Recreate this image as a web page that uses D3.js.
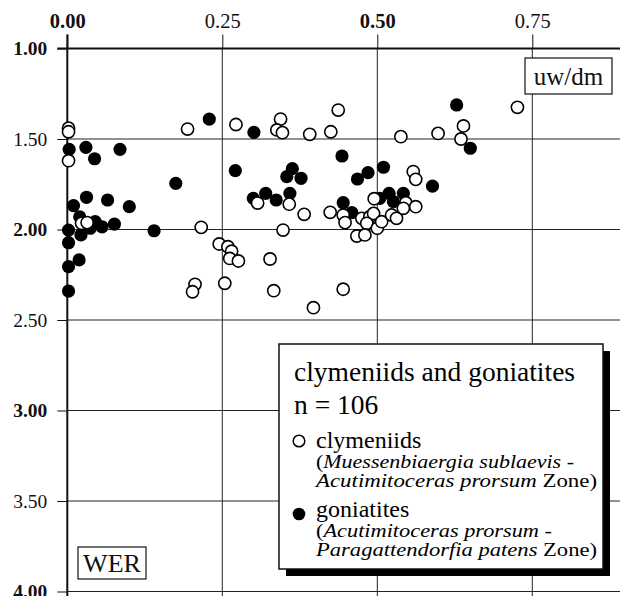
<!DOCTYPE html>
<html>
<head>
<meta charset="utf-8">
<script src="https://cdn.jsdelivr.net/npm/d3@7/dist/d3.min.js"></script>
<style>
  body { margin: 0; background: #fff; }
  svg { display: block; font-family: "Liberation Serif", "Times New Roman", serif; }
</style>
</head>
<body>
<svg id="chart"></svg>
<script>
"use strict";

var Width = 620,
    Height = 596;

// tick values
var xTicks = [0, 0.25, 0.5, 0.75],
    yTicks = [1, 1.5, 2, 2.5, 3, 3.5, 4];

// clymeniids (open circles): [uw/dm, WER]
var clymeniids = [
    [0.002, 1.44], [0.002, 1.46], [0.002, 1.62], [0.194, 1.445], [0.272, 1.42],
    [0.344, 1.39], [0.338, 1.45], [0.347, 1.465], [0.391, 1.474], [0.307, 1.854],
    [0.358, 1.86], [0.382, 1.916], [0.348, 2.003], [0.216, 1.988], [0.245, 2.08],
    [0.259, 2.095], [0.265, 2.12], [0.262, 2.16], [0.276, 2.174], [0.327, 2.163],
    [0.206, 2.303], [0.202, 2.344], [0.254, 2.297], [0.333, 2.338], [0.397, 2.432],
    [0.437, 1.34], [0.425, 1.46], [0.538, 1.487], [0.598, 1.469], [0.639, 1.428],
    [0.635, 1.50], [0.726, 1.325], [0.558, 1.68], [0.562, 1.723], [0.424, 1.905],
    [0.445, 1.92], [0.448, 1.962], [0.495, 1.83], [0.475, 1.938], [0.488, 1.929],
    [0.494, 1.911], [0.483, 1.966], [0.467, 2.036], [0.480, 2.03], [0.500, 1.993],
    [0.507, 1.957], [0.523, 1.92], [0.531, 1.938], [0.546, 1.852], [0.562, 1.874],
    [0.542, 1.883], [0.445, 2.33], [0.023, 1.966], [0.032, 1.962]
];

// goniatites (filled circles): [uw/dm, WER]
var goniatites = [
    [0.229, 1.39], [0.301, 1.463], [0.003, 1.557], [0.030, 1.546], [0.044, 1.609],
    [0.085, 1.557], [0.271, 1.675], [0.175, 1.745], [0.354, 1.708], [0.363, 1.664],
    [0.377, 1.717], [0.300, 1.828], [0.320, 1.80], [0.337, 1.837], [0.359, 1.80],
    [0.010, 1.868], [0.031, 1.822], [0.065, 1.837], [0.100, 1.874], [0.020, 1.93],
    [0.045, 1.957], [0.037, 1.993], [0.056, 1.985], [0.076, 1.97], [0.140, 2.007],
    [0.002, 2.003], [0.002, 2.073], [0.022, 2.03], [0.019, 2.168], [0.002, 2.205],
    [0.002, 2.34], [0.628, 1.312], [0.650, 1.551], [0.443, 1.594], [0.468, 1.721],
    [0.485, 1.686], [0.510, 1.656], [0.589, 1.76], [0.445, 1.852], [0.459, 1.907],
    [0.519, 1.80], [0.542, 1.80], [0.526, 1.846], [0.504, 1.828]
];

var x = d3.scaleLinear().domain([0, 0.75]).range([67.3, 532.3]);
var y = d3.scaleLinear().domain([1, 4]).range([48.5, 591.5]);

var svg = d3.select("#chart")
    .attr("width", Width)
    .attr("height", Height);

// grid lines
svg.append("g")
    .selectAll("line")
    .data(xTicks.slice(1))
    .enter()
    .append("line")
    .attr("x1", function (d) { return x(d); })
    .attr("x2", function (d) { return x(d); })
    .attr("y1", y(1))
    .attr("y2", Height)
    .attr("stroke", "#222")
    .attr("stroke-width", 1);

svg.append("g")
    .selectAll("line")
    .data(yTicks.slice(1))
    .enter()
    .append("line")
    .attr("x1", x(0))
    .attr("x2", Width)
    .attr("y1", function (d) { return y(d); })
    .attr("y2", function (d) { return y(d); })
    .attr("stroke", "#222")
    .attr("stroke-width", 1);

// top axis
var xAxis = svg.append("g")
    .attr("transform", "translate(0," + y(1) + ")")
    .call(d3.axisTop(x)
        .tickValues(xTicks)
        .tickSize(14)
        .tickPadding(7)
        .tickFormat(d3.format(".2f")));
xAxis.select(".domain").remove();

// left axis
var yAxis = svg.append("g")
    .attr("transform", "translate(" + x(0) + ",0)")
    .call(d3.axisLeft(y)
        .tickValues(yTicks)
        .tickSize(10)
        .tickPadding(10)
        .tickFormat(d3.format(".2f")));
yAxis.select(".domain").remove();

svg.selectAll(".tick line").attr("stroke", "#111");
xAxis.selectAll("text")
    .attr("fill", "#111")
    .attr("font-size", 20.5)
    .attr("font-family", "Liberation Serif")
    .attr("font-weight", function (d) { return d % 0.5 === 0 ? "bold" : "normal"; });
yAxis.selectAll("text")
    .attr("fill", "#111")
    .attr("font-size", 19.5)
    .attr("font-family", "Liberation Serif")
    .attr("font-weight", function (d) { return d % 1 === 0 ? "bold" : "normal"; });

// main axis lines
svg.append("line")
    .attr("x1", x(0) - 10).attr("x2", Width)
    .attr("y1", y(1)).attr("y2", y(1))
    .attr("stroke", "#111").attr("stroke-width", 2);
svg.append("line")
    .attr("x1", x(0)).attr("x2", x(0))
    .attr("y1", y(1) - 14).attr("y2", Height)
    .attr("stroke", "#111").attr("stroke-width", 2);

// points
svg.append("g")
    .selectAll("circle")
    .data(goniatites)
    .enter()
    .append("circle")
    .attr("cx", function (d) { return x(d[0]); })
    .attr("cy", function (d) { return y(d[1]); })
    .attr("r", 6.6)
    .attr("fill", "#000");

svg.append("g")
    .selectAll("circle")
    .data(clymeniids)
    .enter()
    .append("circle")
    .attr("cx", function (d) { return x(d[0]); })
    .attr("cy", function (d) { return y(d[1]); })
    .attr("r", 6.1)
    .attr("fill", "#fff")
    .attr("stroke", "#000")
    .attr("stroke-width", 1.6);

// label boxes
function labelBox(x0, y0, w, h, txt, size) {
    svg.append("rect")
        .attr("x", x0).attr("y", y0)
        .attr("width", w).attr("height", h)
        .attr("fill", "#fff")
        .attr("stroke", "#111")
        .attr("stroke-width", 1.2);
    svg.append("text")
        .attr("x", x0 + w / 2)
        .attr("y", y0 + h / 2)
        .attr("dy", "0.35em")
        .attr("text-anchor", "middle")
        .attr("font-size", size)
        .attr("fill", "#111")
        .text(txt);
}
labelBox(525, 58, 87, 36, "uw/dm", 25);
labelBox(78, 547, 68, 32, "WER", 26);

// legend
var lg = svg.append("g");
lg.append("rect")
    .attr("x", 286).attr("y", 351)
    .attr("width", 324).attr("height", 225)
    .attr("fill", "#000");
lg.append("rect")
    .attr("x", 279).attr("y", 344)
    .attr("width", 324).attr("height", 225)
    .attr("fill", "#fff")
    .attr("stroke", "#111")
    .attr("stroke-width", 1.5);

lg.append("text").attr("x", 294).attr("y", 381)
    .attr("font-size", 27.5).text("clymeniids and goniatites");
lg.append("text").attr("x", 294).attr("y", 414)
    .attr("font-size", 27.5).text("n = 106");

lg.append("circle").attr("cx", 299).attr("cy", 441).attr("r", 5.8)
    .attr("fill", "#fff").attr("stroke", "#000").attr("stroke-width", 1.5);
lg.append("circle").attr("cx", 299).attr("cy", 514).attr("r", 6.3)
    .attr("fill", "#000");

lg.append("text").attr("x", 316).attr("y", 448)
    .attr("font-size", 24).text("clymeniids");
lg.append("text").attr("x", 316).attr("y", 517)
    .attr("font-size", 24).text("goniatites");

var zoneLines = [
    { y: 468, w: 258, parts: [["(", "normal"], ["Muessenbiaergia sublaevis", "italic"], [" -", "normal"]] },
    { y: 487, w: 281, parts: [["Acutimitoceras prorsum", "italic"], [" Zone)", "normal"]] },
    { y: 537, w: 236, parts: [["(", "normal"], ["Acutimitoceras prorsum", "italic"], [" -", "normal"]] },
    { y: 556, w: 281, parts: [["Paragattendorfia patens", "italic"], [" Zone)", "normal"]] }
];
zoneLines.forEach(function (l) {
    var t = lg.append("text").attr("x", 316).attr("y", l.y)
        .attr("font-size", 19.5)
        .attr("textLength", l.w)
        .attr("lengthAdjust", "spacingAndGlyphs");
    l.parts.forEach(function (p) {
        t.append("tspan").attr("font-style", p[1]).text(p[0]);
    });
});
</script>
</body>
</html>
